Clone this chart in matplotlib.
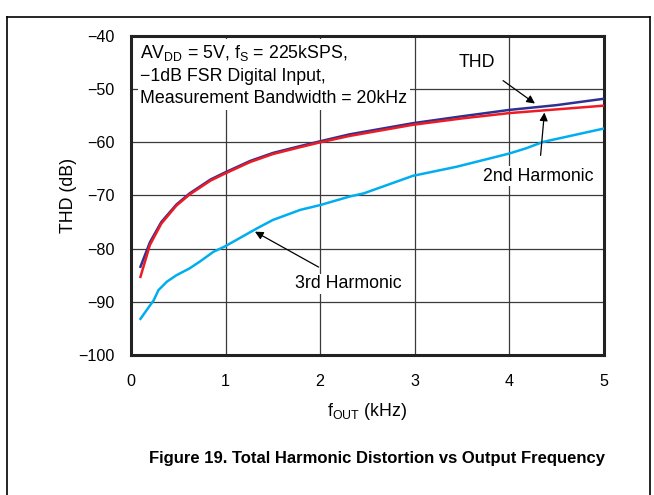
import numpy as np
import matplotlib
matplotlib.use("Agg")
import matplotlib.pyplot as plt
from matplotlib.lines import Line2D

plt.rcParams['font.family'] = ['Liberation Sans', 'DejaVu Sans']
plt.rcParams['mathtext.default'] = 'regular'

# curve data
thd_f = [0.10, 0.20, 0.32, 0.48, 0.62, 0.84, 0.99, 1.26, 1.50, 1.79, 2.00, 2.31, 2.98, 3.50, 4.00, 4.50, 5.00]
thd_db = [-83.4, -78.8, -75.0, -71.7, -69.6, -67.0, -65.7, -63.5, -62.0, -60.7, -59.8, -58.5, -56.4, -55.1, -53.9, -53.0, -51.8]

h2_f = [0.10, 0.20, 0.32, 0.48, 0.62, 0.84, 0.99, 1.26, 1.50, 1.79, 2.00, 2.31, 2.98, 3.50, 4.00, 4.50, 5.00]
h2_db = [-85.3, -79.3, -75.3, -71.9, -69.8, -67.2, -65.9, -63.7, -62.2, -60.9, -60.0, -58.8, -56.7, -55.5, -54.5, -53.8, -53.1]

h3_f = [0.10, 0.24, 0.29, 0.38, 0.48, 0.62, 0.73, 0.87, 0.99, 1.15, 1.33, 1.50, 1.79, 2.00, 2.31, 2.46, 2.98, 3.44, 4.00, 4.18, 4.36, 5.00]
h3_db = [-93.2, -89.7, -87.8, -86.2, -85.0, -83.7, -82.4, -80.6, -79.6, -78.0, -76.2, -74.6, -72.7, -71.8, -70.2, -69.6, -66.3, -64.6, -62.1, -61.1, -59.9, -57.4]

x_ticks = [0, 1, 2, 3, 4, 5]
y_ticks = [-100, -90, -80, -70, -60, -50, -40]

fig = plt.figure(figsize=(6.54, 4.95), dpi=100)

# outer frame of the datasheet figure
fig.add_artist(Line2D([6.5 / 654, 6.5 / 654], [0, 1 - 17 / 495], color='black', lw=1.2))
fig.add_artist(Line2D([649.5 / 654, 649.5 / 654], [0, 1 - 17 / 495], color='black', lw=1.2))
fig.add_artist(Line2D([6.5 / 654, 649.5 / 654], [1 - 17 / 495, 1 - 17 / 495], color='black', lw=1.2))

ax = fig.add_axes([131 / 654, 1 - 355 / 495, 473 / 654, 319 / 495])

ax.plot(thd_f, thd_db, color='#2e3192', lw=1.8, zorder=3)
ax.plot(h2_f, h2_db, color='#ed1c24', lw=1.8, zorder=4)
ax.plot(h3_f, h3_db, color='#00aeef', lw=1.8, zorder=3)

ax.set_xlim(0, 5)
ax.set_ylim(-100, -40)
ax.set_xticks(x_ticks)
ax.set_yticks(y_ticks)
ax.tick_params(axis='both', length=0, labelsize=11.6)
ax.tick_params(axis='x', pad=14)
ax.tick_params(axis='y', pad=12)
ax.grid(True, color='#3a3a3a', lw=0.9)
ax.set_axisbelow(True)
for s in ax.spines.values():
    s.set_linewidth(2.2)
    s.set_color('#222222')

ax.set_xlabel('f$_{OUT}$ (kHz)', fontsize=12.8, labelpad=8)
ax.set_ylabel('THD (dB)', fontsize=12.8, labelpad=1)

ax.text(0.10, -41.3,
        'AV$_{DD}$ = 5V, f$_S$ = 225kSPS,\n\u22121dB FSR Digital Input,\nMeasurement Bandwidth = 20kHz',
        fontsize=12.8, va='top', ha='left', linespacing=1.38, zorder=5,
        bbox=dict(facecolor='white', edgecolor='none', pad=2))

ax.annotate('THD', xy=(4.27, -52.7), xytext=(3.66, -44.9), fontsize=12.8,
            ha='center', va='center',
            arrowprops=dict(arrowstyle='-|>', color='black', lw=0.9, shrinkA=9, shrinkB=0,
                            mutation_scale=12), zorder=6)
ax.annotate('2nd Harmonic', xy=(4.37, -54.4), xytext=(4.31, -66.4), fontsize=12.8,
            ha='center', va='center',
            arrowprops=dict(arrowstyle='-|>', color='black', lw=0.9, shrinkA=8, shrinkB=0,
                            mutation_scale=12),
            bbox=dict(facecolor='white', edgecolor='none', pad=1), zorder=6)
ax.annotate('3rd Harmonic', xy=(1.31, -76.8), xytext=(2.30, -86.6), fontsize=12.8,
            ha='center', va='center',
            arrowprops=dict(arrowstyle='-|>', color='black', lw=0.9, shrinkA=10, shrinkB=0,
                            mutation_scale=12),
            bbox=dict(facecolor='white', edgecolor='none', pad=1), zorder=6)

fig.text(377 / 654, 1 - 458 / 495,
         'Figure 19. Total Harmonic Distortion vs Output Frequency',
         fontsize=12, fontweight='bold', ha='center', va='center')

fig.savefig('out.png', dpi=100)
